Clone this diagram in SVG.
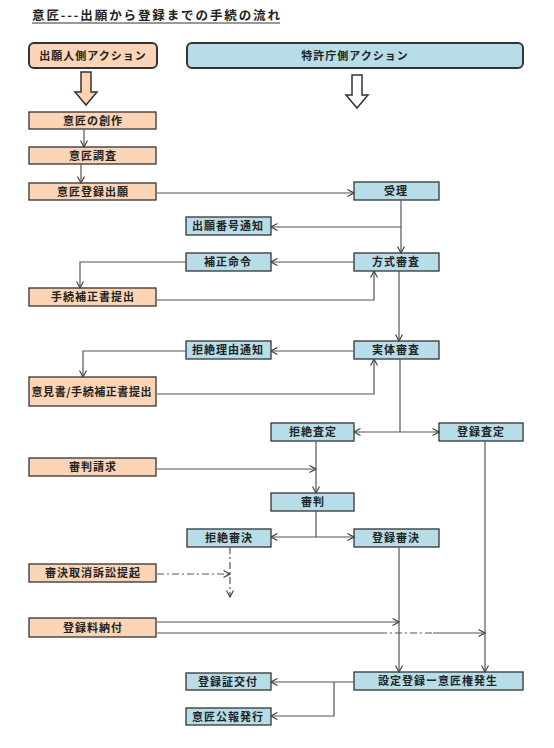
<svg xmlns="http://www.w3.org/2000/svg" width="554" height="748" viewBox="0 0 554 748">
<style>
text{font-family:"Noto Sans CJK JP","Liberation Sans",sans-serif;font-weight:700;fill:#222;text-anchor:middle}
.t{font-size:11px;letter-spacing:1px}
.a rect{fill:#FBD5B5;stroke:#333;stroke-width:1.3}
.b rect{fill:#B7DDE8;stroke:#333;stroke-width:1.3}
.h rect{stroke-width:2}
.c path{fill:none;stroke:#555;stroke-width:1.2}
.dd{stroke-dasharray:7 3 2 3}
</style>
<defs>
<marker id="ar" viewBox="0 0 8 8" refX="7.5" refY="4" markerWidth="8" markerHeight="8" markerUnits="userSpaceOnUse" orient="auto-start-reverse">
<path d="M1,0.5 L7.5,4 L1,7.5" fill="none" stroke="#444" stroke-width="1.2"/>
</marker>
</defs>
<rect width="554" height="748" fill="#fff"/>
<text x="156" y="20" font-size="12.5" textLength="248" lengthAdjust="spacing">意匠---出願から登録までの手続の流れ</text>
<line x1="32" y1="23" x2="280" y2="23" stroke="#333" stroke-width="1"/>

<g id="hdr-left" class="a h"><rect x="29" y="43" width="128" height="25" rx="5"/><text class="t" x="93" y="60">出願人側アクション</text></g>
<g id="hdr-right" class="b h"><rect x="187" y="43" width="336" height="25" rx="5"/><text class="t" x="355" y="60">特許庁側アクション</text></g>
<g id="blk-left"><polygon points="81,72 91,72 91,92 97,92 86,105 75,92 81,92" fill="#FBD5B5" stroke="#333" stroke-width="1.5"/></g>
<g id="blk-right"><polygon points="352,75 362,75 362,95 368,95 357,108 346,95 352,95" fill="#fff" stroke="#333" stroke-width="1.5"/></g>

<g id="n1" class="a"><rect x="29" y="112" width="127" height="17"/><text class="t" x="93" y="124.5">意匠の創作</text></g>
<g id="n2" class="a"><rect x="29" y="147" width="127" height="17"/><text class="t" x="93" y="159.5">意匠調査</text></g>
<g id="n3" class="a"><rect x="29" y="183" width="127" height="17"/><text class="t" x="93" y="195.5">意匠登録出願</text></g>
<g id="n4" class="a"><rect x="29" y="288" width="127" height="18"/><text class="t" x="93" y="301">手続補正書提出</text></g>
<g id="n5" class="a"><rect x="29" y="377" width="127" height="29"/><text class="t" x="92" y="395.5" textLength="121" lengthAdjust="spacing">意見書/手続補正書提出</text></g>
<g id="n6" class="a"><rect x="29" y="458" width="127" height="18"/><text class="t" x="93" y="471">審判請求</text></g>
<g id="n7" class="a"><rect x="29" y="564" width="127" height="18"/><text class="t" x="93" y="577">審決取消訴訟提起</text></g>
<g id="n8" class="a"><rect x="29" y="618" width="127" height="19"/><text class="t" x="93" y="631.5">登録料納付</text></g>

<g id="b1" class="b"><rect x="354" y="182" width="85" height="18"/><text class="t" x="396" y="195">受理</text></g>
<g id="b2" class="b"><rect x="186" y="217" width="85" height="18"/><text class="t" x="228" y="230">出願番号通知</text></g>
<g id="b3" class="b"><rect x="354" y="253" width="85" height="18"/><text class="t" x="396" y="266">方式審査</text></g>
<g id="b4" class="b"><rect x="186" y="253" width="85" height="18"/><text class="t" x="228" y="266">補正命令</text></g>
<g id="b5" class="b"><rect x="354" y="341" width="85" height="18"/><text class="t" x="396" y="354">実体審査</text></g>
<g id="b6" class="b"><rect x="186" y="341" width="85" height="18"/><text class="t" x="228" y="354">拒絶理由通知</text></g>
<g id="b7" class="b"><rect x="271" y="423" width="83" height="18"/><text class="t" x="313" y="436">拒絶査定</text></g>
<g id="b8" class="b"><rect x="439" y="423" width="84" height="18"/><text class="t" x="481" y="436">登録査定</text></g>
<g id="b9" class="b"><rect x="271" y="493" width="83" height="18"/><text class="t" x="313" y="506">審判</text></g>
<g id="b10" class="b"><rect x="187" y="529" width="84" height="18"/><text class="t" x="229" y="542">拒絶審決</text></g>
<g id="b11" class="b"><rect x="354" y="529" width="85" height="18"/><text class="t" x="396" y="542">登録審決</text></g>
<g id="b12" class="b"><rect x="354" y="672" width="169" height="18"/><text class="t" x="438" y="685">設定登録ー意匠権発生</text></g>
<g id="b13" class="b"><rect x="186" y="673" width="85" height="17"/><text class="t" x="228" y="685.5">登録証交付</text></g>
<g id="b14" class="b"><rect x="186" y="708" width="85" height="17"/><text class="t" x="228" y="720.5">意匠公報発行</text></g>

<g id="connectors" class="c">
<path d="M84,129 V147" marker-end="url(#ar)"/>
<path d="M81,164 V183" marker-end="url(#ar)"/>
<path d="M157,193 H354" marker-end="url(#ar)"/>
<path d="M401,200 V253" marker-end="url(#ar)"/>
<path d="M401,227 H271" marker-end="url(#ar)"/>
<path d="M354,262 H271" marker-end="url(#ar)"/>
<path d="M186,262 H80 V288" marker-end="url(#ar)"/>
<path d="M157,300 H374 V271" marker-end="url(#ar)"/>
<path d="M399,271 V341" marker-end="url(#ar)"/>
<path d="M354,351 H271" marker-end="url(#ar)"/>
<path d="M186,351 H83 V377" marker-end="url(#ar)"/>
<path d="M157,394 H374 V359" marker-end="url(#ar)"/>
<path d="M400,359 V432"/>
<path d="M354,432 H439" marker-start="url(#ar)" marker-end="url(#ar)"/>
<path d="M157,469 H316" marker-end="url(#ar)"/>
<path d="M316,441 V493" marker-end="url(#ar)"/>
<path d="M316,511 V537"/>
<path d="M271,537 H354" marker-start="url(#ar)" marker-end="url(#ar)"/>
<path class="dd" d="M157,574 H230" marker-end="url(#ar)"/>
<path class="dd" d="M230,547 V597" marker-end="url(#ar)"/>
<path d="M157,622 H399" marker-end="url(#ar)"/>
<path d="M157,633 H380"/>
<path class="dd" d="M380,633 H433"/>
<path d="M433,633 H485" marker-end="url(#ar)"/>
<path d="M399,547 V672" marker-end="url(#ar)"/>
<path d="M485,441 V672" marker-end="url(#ar)"/>
<path d="M354,682 H271" marker-end="url(#ar)"/>
<path d="M334,682 V716 H271" marker-end="url(#ar)"/>
</g>
</svg>
